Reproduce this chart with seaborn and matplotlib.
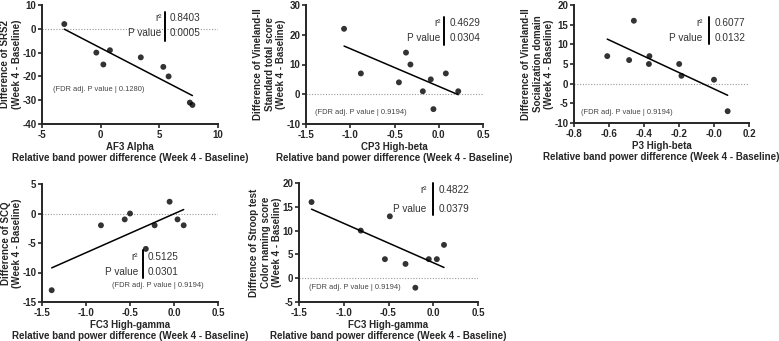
import matplotlib
matplotlib.use("Agg")
import matplotlib.pyplot as plt
import seaborn as sns
import pandas as pd

# ---- data ----
af3_alpha = [-3.1, -0.37, 0.23, 0.79, 3.42, 5.34, 5.79, 7.6, 7.82]
srs2_diff = [2, -10, -15, -9, -12, -16, -20, -31, -32]

cp3_hbeta = [-1.07, -0.88, -0.45, -0.37, -0.32, -0.18, -0.09, -0.06, 0.08, 0.22]
vabs_total_diff = [22, 7, 4, 14, 10, 1, 5, -5, 7, 1]

p3_hbeta = [-0.61, -0.485, -0.458, -0.372, -0.369, -0.199, -0.186, 0.0, 0.078]
vabs_social_diff = [7, 6, 16, 5, 7, 5, 2, 1, -7]

fc3_hgamma_scq = [-1.39, -0.83, -0.56, -0.50, -0.32, -0.22, -0.05, 0.04, 0.11]
scq_diff = [-13, -2, -1, 0, -6, -2, 2, -1, -2]

fc3_hgamma_stroop = [-1.36, -0.81, -0.54, -0.485, -0.31, -0.20, -0.05, 0.04, 0.12]
stroop_diff = [16, 10, 4, 13, 3, -2, 4, 4, 7]

r2_vals = ["0.8403", "0.4629", "0.6077", "0.5125", "0.4822"]
p_vals = ["0.0005", "0.0304", "0.0132", "0.0301", "0.0379"]
fdr_vals = ["0.1280", "0.9194", "0.9194", "0.9194", "0.9194"]

x_titles = ["AF3 Alpha", "CP3 High-beta", "P3 High-beta", "FC3 High-gamma", "FC3 High-gamma"]
y_titles = [
    "Difference of SRS2\n(Week 4 - Baseline)",
    "Difference of Vineland-II\nStandard total score\n(Week 4 - Baseline)",
    "Difference of Vineland-II\nSocialization domain\n(Week 4 - Baseline)",
    "Difference of SCQ\n(Week 4 - Baseline)",
    "Diffrence of Stroop test\nColor naming score\n(Week 4 - Baseline)",
]
x_tick_sets = [
    [-5, 0, 5, 10],
    [-1.5, -1.0, -0.5, 0.0, 0.5],
    [-0.8, -0.6, -0.4, -0.2, 0.0, 0.2],
    [-1.5, -1.0, -0.5, 0.0, 0.5],
    [-1.5, -1.0, -0.5, 0.0, 0.5],
]
x_tick_labels = [
    ["-5", "0", "5", "10"],
    ["-1.5", "-1.0", "-0.5", "0.0", "0.5"],
    ["-0.8", "-0.6", "-0.4", "-0.2", "-0.0", "0.2"],
    ["-1.5", "-1.0", "-0.5", "0.0", "0.5"],
    ["-1.5", "-1.0", "-0.5", "0.0", "0.5"],
]
y_tick_sets = [
    [-40, -30, -20, -10, 0, 10],
    [-10, 0, 10, 20, 30],
    [-10, -5, 0, 5, 10, 15, 20],
    [-15, -10, -5, 0, 5],
    [-5, 0, 5, 10, 15, 20],
]

panels = [
    (af3_alpha, srs2_diff),
    (cp3_hbeta, vabs_total_diff),
    (p3_hbeta, vabs_social_diff),
    (fc3_hgamma_scq, scq_diff),
    (fc3_hgamma_stroop, stroop_diff),
]

# axes boxes in pixels: left, top, right, bottom
W, H = 779, 341
boxes = [
    (42, 5, 218, 124),
    (306, 5, 483, 124),
    (574, 5, 749, 123),
    (42, 184, 218, 302),
    (299, 183, 478, 302),
]
# stats text placement (axes fraction): label right x, bar x, value x, row1 y, row2 y, bar y0, bar y1
stat_pos = [
    (0.68, 0.70, 0.727, 0.89, 0.765, 0.70, 0.94),
    (0.76, 0.78, 0.81, 0.85, 0.72, 0.66, 0.90),
    (0.735, 0.77, 0.806, 0.847, 0.72, 0.67, 0.90),
    (0.545, 0.574, 0.602, 0.384, 0.257, 0.20, 0.44),
    (0.713, 0.746, 0.778, 0.94, 0.78, 0.73, 1.0),
]
# FDR text: x, y, ha
fdr_pos = [
    (0.06, 0.286, "left"),
    (0.05, 0.10, "left"),
    (0.04, 0.093, "left"),
    (0.92, 0.144, "right"),
    (0.058, 0.124, "left"),
]

sns.set_style("ticks")
plt.rcParams["font.family"] = ["Liberation Sans", "DejaVu Sans"]
plt.rcParams["axes.unicode_minus"] = False

fig = plt.figure(figsize=(W / 100, H / 100), dpi=100)

for i, (xs, ys) in enumerate(panels):
    l, t, r, b = boxes[i]
    ax = fig.add_axes([l / W, 1 - b / H, (r - l) / W, (b - t) / H])
    df = pd.DataFrame({"x": xs, "y": ys})
    xt = x_tick_sets[i]
    yt = y_tick_sets[i]
    ax.axhline(0, color="#999999", lw=0.8, ls=(0, (1, 1.5)), zorder=0)
    sns.regplot(data=df, x="x", y="y", ax=ax, ci=None, truncate=True,
                scatter_kws=dict(s=18, color="black", edgecolor="none"),
                line_kws=dict(color="black", lw=1.1))
    ax.set_xlim(xt[0], xt[-1])
    ax.set_ylim(yt[0], yt[-1])
    ax.set_xticks(xt)
    ax.set_xticklabels(x_tick_labels[i])
    ax.set_yticks(yt)
    ax.tick_params(direction="out", length=3, width=1.2, labelsize=7, pad=1)
    for lab in ax.get_xticklabels() + ax.get_yticklabels():
        lab.set_fontweight("bold")
    sns.despine(ax=ax)
    for s in ("left", "bottom"):
        ax.spines[s].set_linewidth(1.4)
    ax.set_xlabel(x_titles[i] + "\nRelative band power difference (Week 4 - Baseline)",
                  fontsize=7, fontweight="bold", labelpad=2, linespacing=1.1)
    ax.set_ylabel(y_titles[i], fontsize=7, fontweight="bold", labelpad=0.5,
                  linespacing=1.15)

    lx, bx, vx, y1, y2, by0, by1 = stat_pos[i]
    tc = "#333333"
    ax.text(lx, y1, "r\u00b2", transform=ax.transAxes, ha="right", va="center",
            fontsize=7.2, color=tc)
    ax.text(lx, y2, "P value", transform=ax.transAxes, ha="right", va="center",
            fontsize=7.2, color=tc)
    ax.text(vx, y1, r2_vals[i], transform=ax.transAxes, ha="left", va="center",
            fontsize=7.2, color=tc)
    ax.text(vx, y2, p_vals[i], transform=ax.transAxes, ha="left", va="center",
            fontsize=7.2, color=tc)
    ax.plot([bx, bx], [by0, by1], transform=ax.transAxes, color="black", lw=1.4,
            clip_on=False)
    fx, fy, fha = fdr_pos[i]
    ax.text(fx, fy, "(FDR adj. P value | " + fdr_vals[i] + ")", transform=ax.transAxes,
            ha=fha, va="center", fontsize=5.4, color="#444444")

fig.savefig("out.png", dpi=100)
